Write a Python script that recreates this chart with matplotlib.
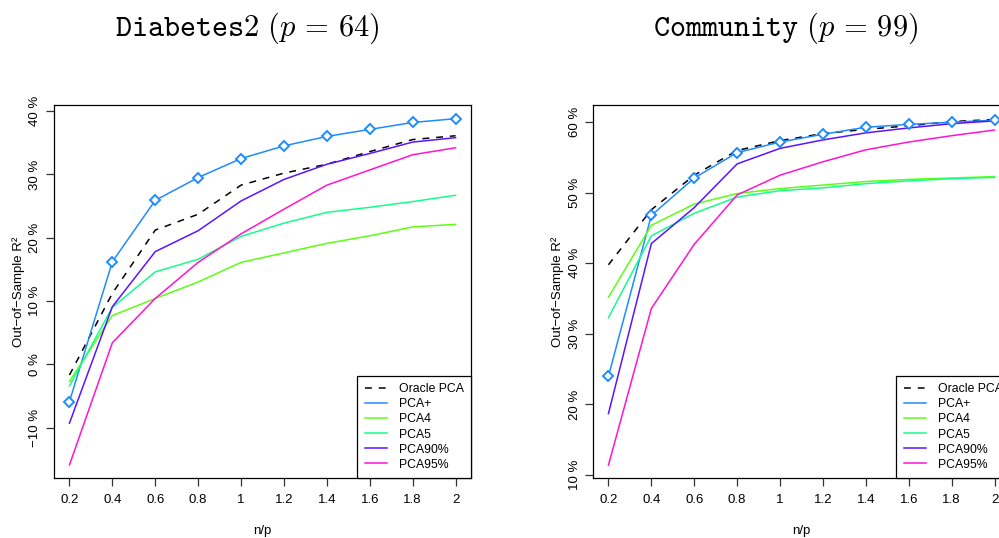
import matplotlib
matplotlib.use('Agg')
import matplotlib.pyplot as plt
import numpy as np

plt.rcParams['font.family'] = ['Liberation Sans', 'DejaVu Sans']

NP = [0.2, 0.4, 0.6, 0.8, 1.0, 1.2, 1.4, 1.6, 1.8, 2.0]
NP_LABELS = ['0.2', '0.4', '0.6', '0.8', '1', '1.2', '1.4', '1.6', '1.8', '2']

# Out-of-sample R^2 (%) per method, Diabetes2
diab_oracle = [-1.7, 11.2, 21.2, 23.7, 28.3, 30.2, 31.6, 33.6, 35.5, 36.1]
diab_pca_plus = [-5.9, 16.2, 25.9, 29.5, 32.5, 34.5, 36.0, 37.1, 38.2, 38.8]
diab_pca4 = [-2.7, 7.7, 10.4, 13.0, 16.1, 17.6, 19.1, 20.3, 21.7, 22.1]
diab_pca5 = [-3.4, 9.0, 14.6, 16.6, 20.2, 22.3, 24.0, 24.8, 25.7, 26.7]
diab_pca90 = [-9.3, 9.1, 17.8, 21.1, 25.8, 29.2, 31.6, 33.3, 35.1, 35.8]
diab_pca95 = [-15.9, 3.4, 10.4, 16.1, 20.6, 24.5, 28.3, 30.7, 33.1, 34.2]

# Out-of-sample R^2 (%) per method, Community
comm_oracle = [39.8, 47.6, 52.5, 56.0, 57.4, 58.4, 59.0, 59.5, 60.1, 60.4]
comm_pca_plus = [24.0, 46.8, 52.1, 55.7, 57.2, 58.3, 59.3, 59.7, 60.0, 60.3]
comm_pca4 = [35.2, 45.4, 48.4, 49.9, 50.6, 51.1, 51.6, 51.9, 52.1, 52.3]
comm_pca5 = [32.3, 43.9, 47.1, 49.4, 50.3, 50.7, 51.3, 51.7, 52.0, 52.2]
comm_pca90 = [18.7, 42.8, 47.9, 54.1, 56.3, 57.5, 58.5, 59.2, 59.8, 60.2]
comm_pca95 = [11.4, 33.6, 42.7, 49.7, 52.5, 54.4, 56.1, 57.2, 58.1, 58.9]

COLORS = {
    'PCA+': '#1E8CFF',
    'PCA4': '#5CFF14',
    'PCA5': '#14FF88',
    'PCA90%': '#5A14FF',
    'PCA95%': '#FF14D2',
}


def draw_panel(ax, oracle, plus, pca4, pca5, pca90, pca95, yticks, ylim):
    lw = 1.1
    ax.plot(NP, oracle, color='black', lw=lw, dashes=(4.5, 4.5), label='Oracle PCA')
    ax.plot(NP, plus, color=COLORS['PCA+'], lw=lw, label='PCA+')
    ax.plot(NP, pca4, color=COLORS['PCA4'], lw=lw, label='PCA4')
    ax.plot(NP, pca5, color=COLORS['PCA5'], lw=lw, label='PCA5')
    ax.plot(NP, pca90, color=COLORS['PCA90%'], lw=lw, label='PCA90%')
    ax.plot(NP, pca95, color=COLORS['PCA95%'], lw=lw, label='PCA95%')
    # open diamonds on PCA+
    ax.plot(NP, plus, linestyle='none', marker='D', ms=4.8, mfc='white',
            mec=COLORS['PCA+'], mew=1.4)

    ax.set_xlim(0.128, 2.072)
    ax.set_ylim(*ylim)
    ax.set_xticks(NP)
    ax.set_xticklabels(NP_LABELS)
    ax.set_yticks(yticks)
    ax.set_yticklabels([('\u2212' if v < 0 else '') + f'{abs(v)} %' for v in yticks],
                       rotation=90, va='center')
    ax.tick_params(direction='out', length=5.5, width=0.9, labelsize=9.5,
                   color='#333333', pad=6)
    ax.tick_params(axis='y', pad=3.5)
    for s in ax.spines.values():
        s.set_linewidth(0.9)
    ax.set_xlabel('n/p', fontsize=9.5, labelpad=14)
    ax.set_ylabel('Out\u2212of\u2212Sample R\u00b2', fontsize=9.5, labelpad=3)

    leg = ax.legend(loc='lower right', borderaxespad=0, fancybox=False,
                    edgecolor='black', framealpha=1, fontsize=8.8,
                    handlelength=1.85, handletextpad=0.95, labelspacing=0.25,
                    borderpad=0.6)
    leg.get_frame().set_linewidth(0.9)


fig = plt.figure(figsize=(9.99, 5.38), dpi=100)

ax1 = fig.add_axes([54 / 999, 60 / 538, 417 / 999, 373 / 538])
draw_panel(ax1, diab_oracle, diab_pca_plus, diab_pca4, diab_pca5, diab_pca90, diab_pca95,
           [-10, 0, 10, 20, 30, 40], (-17.96, 40.96))

ax2 = fig.add_axes([593 / 999, 60 / 538, 417 / 999, 373 / 538])
draw_panel(ax2, comm_oracle, comm_pca_plus, comm_pca4, comm_pca5, comm_pca90, comm_pca95,
           [10, 20, 30, 40, 50, 60], (9.57, 62.45))

fig.text(247 / 999, 1 - 36 / 538, r'$\mathtt{Diabetes2}\ (p\,=\,64)$', ha='center',
         va='baseline', fontsize=22, math_fontfamily='cm')
fig.text(786 / 999, 1 - 36 / 538, r'$\mathtt{Community}\ (p\,=\,99)$', ha='center',
         va='baseline', fontsize=22, math_fontfamily='cm')

fig.savefig('out.png', dpi=100)
